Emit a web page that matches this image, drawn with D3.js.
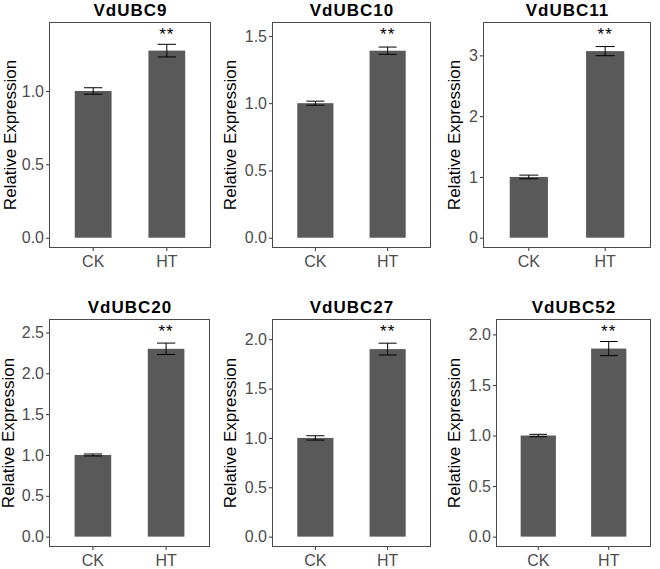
<!DOCTYPE html>
<html><head><meta charset="utf-8">
<script src="https://cdn.jsdelivr.net/npm/d3@7"></script>
<style>
body{margin:0;background:#fff;}
text{font-family:"Liberation Sans",Arial,sans-serif;}
</style></head>
<body>
<svg id="chart" width="660" height="569"></svg>
<script>
// ---- data ----
const genes = ["VdUBC9","VdUBC10","VdUBC11","VdUBC20","VdUBC27","VdUBC52"];
const groups = ["CK","HT"];
const ckMean = [1.00, 1.00, 1.00, 1.00, 1.00, 1.00];
const ckErr  = [0.022, 0.015, 0.03, 0.012, 0.022, 0.012];
const htMean = [1.275, 1.39, 3.07, 2.30, 1.90, 1.86];
const htErr  = [0.043, 0.027, 0.075, 0.07, 0.06, 0.07];
const sigLabel = ["**","**","**","**","**","**"];
const sigY = [1.40, 1.527, 3.38, 2.538, 2.10, 2.05];
const yTicks = [
  [0, 0.5, 1.0],
  [0, 0.5, 1.0, 1.5],
  [0, 1, 2, 3],
  [0, 0.5, 1.0, 1.5, 2.0, 2.5],
  [0, 0.5, 1.0, 1.5, 2.0],
  [0, 0.5, 1.0, 1.5, 2.0]
];
const yTickFmt = [".1f", ".1f", "d", ".1f", ".1f", ".1f"];
const yTitle = "Relative Expression";

// ---- layout (panel boxes) ----
const boxes = [
  {x0:49,  x1:211, y0:22,  y1:248, ty:16,  ax:15.5},
  {x0:272, x1:431, y0:22,  y1:248, ty:16,  ax:236},
  {x0:483, x1:651, y0:22,  y1:248, ty:16,  ax:460},
  {x0:49,  x1:210, y0:319, y1:547, ty:313, ax:13.5},
  {x0:272, x1:431, y0:319, y1:547, ty:313, ax:235.5},
  {x0:496, x1:651, y0:319, y1:547, ty:313, ax:459.5}
];

const svg = d3.select("#chart");
const tickCol = "#4d4d4d";
const borderCol = "#4a4a4a";
const FONT = "Liberation Sans, Arial, sans-serif";

genes.forEach((g, i) => {
  const b = boxes[i];
  const gp = svg.append("g");
  const vals = [{k:"CK", m:ckMean[i], e:ckErr[i]}, {k:"HT", m:htMean[i], e:htErr[i]}];
  const top = sigY[i];
  const pad = top * 0.05;
  const y = d3.scaleLinear().domain([-pad, top + pad]).range([b.y1, b.y0]);
  const x = d3.scaleBand().domain(groups).range([b.x0, b.x1]).paddingInner(0.5).paddingOuter(0.35);
  const step = x.step();

  // bars
  gp.selectAll("rect.bar").data(vals).join("rect")
    .attr("x", d => x(d.k)).attr("width", x.bandwidth())
    .attr("y", d => y(d.m)).attr("height", d => y(0) - y(d.m))
    .attr("fill", "#595959");

  // error bars
  const ew = step * 0.25 / 2;
  const cx = d => x(d.k) + x.bandwidth()/2;
  const eb = gp.selectAll("g.err").data(vals).join("g").attr("stroke", "#000").attr("stroke-width", 1);
  eb.append("line").attr("x1", cx).attr("x2", cx)
    .attr("y1", d => y(d.m + d.e)).attr("y2", d => y(d.m - d.e));
  eb.append("line").attr("x1", d => cx(d) - ew).attr("x2", d => cx(d) + ew)
    .attr("y1", d => y(d.m + d.e)).attr("y2", d => y(d.m + d.e));
  eb.append("line").attr("x1", d => cx(d) - ew).attr("x2", d => cx(d) + ew)
    .attr("y1", d => y(d.m - d.e)).attr("y2", d => y(d.m - d.e));

  // significance
  gp.append("text").attr("x", x("HT") + x.bandwidth()/2).attr("y", y(sigY[i]) + 8)
    .attr("text-anchor", "middle").attr("font-size", 17).attr("letter-spacing", 1).attr("fill", "#000").text(sigLabel[i]);

  // panel border
  gp.append("rect").attr("x", b.x0 + 0.5).attr("y", b.y0 + 0.5)
    .attr("width", b.x1 - b.x0 - 1).attr("height", b.y1 - b.y0 - 1)
    .attr("fill", "none").attr("stroke", borderCol).attr("stroke-width", 1);

  // y axis
  const yAx = gp.append("g").attr("transform", `translate(${b.x0},0)`)
    .call(d3.axisLeft(y).tickValues(yTicks[i]).tickFormat(d3.format(yTickFmt[i])).tickSize(3).tickPadding(2));
  yAx.select(".domain").remove();
  yAx.selectAll(".tick line").attr("stroke", "#333");
  yAx.selectAll(".tick text").attr("fill", tickCol).attr("font-size", 16).attr("font-family", FONT);

  // x axis
  const xAx = gp.append("g").attr("transform", `translate(0,${b.y1})`)
    .call(d3.axisBottom(x).tickSize(3).tickPadding(5));
  xAx.select(".domain").remove();
  xAx.selectAll(".tick line").attr("stroke", "#333");
  xAx.selectAll(".tick text").attr("fill", tickCol).attr("font-size", 16).attr("font-family", FONT);

  // title
  gp.append("text").attr("x", (b.x0 + b.x1)/2 + 0.5).attr("y", b.ty)
    .attr("text-anchor", "middle").attr("font-size", 17).attr("letter-spacing", 1)
    .attr("font-weight", "bold").attr("fill", "#000").text(g);

  // y axis title
  gp.append("text").attr("transform", `translate(${b.ax},${(b.y0 + b.y1)/2}) rotate(-90)`)
    .attr("text-anchor", "middle").attr("font-size", 17).attr("fill", "#000").text(yTitle);
});
</script>
</body></html>
